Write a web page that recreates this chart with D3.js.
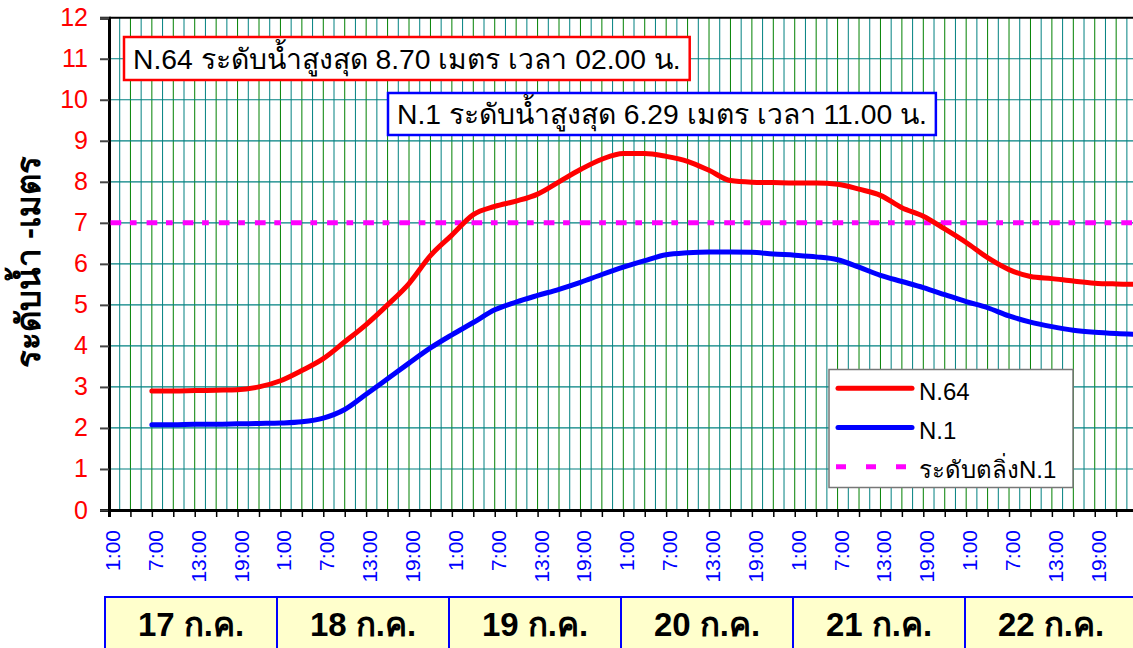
<!DOCTYPE html>
<html>
<head>
<meta charset="utf-8">
<script src="https://cdn.jsdelivr.net/npm/d3@7"></script>
<style>
  body { margin: 0; background: #fff; }
  svg { display: block; font-family: "Liberation Sans", Arial, sans-serif; }
</style>
</head>
<body>
<svg id="chart" width="1133" height="648"></svg>
<script>
// hours counted from 17 ก.ค. 00:00, one reading every 3 hours
var hours = [7, 10, 13, 16, 19, 22, 25, 28, 31, 34, 37, 40, 43, 46, 49, 52, 55, 58, 61, 64,
             67, 70, 73, 76, 79, 82, 85, 88, 91, 94, 97, 100, 103, 106, 109, 112, 115, 118,
             121, 124, 127, 130, 133, 136, 139, 142, 145];

var n64 = [2.90, 2.90, 2.91, 2.92, 2.93, 3.00, 3.15, 3.40, 3.69, 4.10, 4.52, 5.00, 5.52, 6.20,
           6.70, 7.20, 7.40, 7.53, 7.70, 8.00, 8.30, 8.55, 8.69, 8.69, 8.62, 8.50, 8.28, 8.03,
           7.99, 7.98, 7.97, 7.97, 7.94, 7.82, 7.67, 7.37, 7.16, 6.85, 6.52, 6.15, 5.86, 5.69,
           5.64, 5.58, 5.53, 5.51, 5.50];

var n1 = [2.08, 2.08, 2.09, 2.09, 2.10, 2.11, 2.12, 2.15, 2.24, 2.45, 2.82, 3.20, 3.58, 3.95,
          4.27, 4.57, 4.88, 5.07, 5.23, 5.38, 5.55, 5.74, 5.92, 6.08, 6.22, 6.27, 6.29, 6.29,
          6.28, 6.24, 6.21, 6.17, 6.10, 5.92, 5.72, 5.57, 5.42, 5.25, 5.08, 4.93, 4.73, 4.58,
          4.47, 4.38, 4.33, 4.30, 4.28];

var bankLevel = 7.0; // ระดับตลิ่ง N.1

var days = ["17 ก.ค.", "18 ก.ค.", "19 ก.ค.", "20 ก.ค.", "21 ก.ค.", "22 ก.ค."];
var timeLabels = ["1:00", "7:00", "13:00", "19:00"];
var yTicks = [0, 1, 2, 3, 4, 5, 6, 7, 8, 9, 10, 11, 12];

var note64 = "N.64 ระดับน้ำสูงสุด 8.70 เมตร เวลา 02.00 น.";
var note1 = "N.1 ระดับน้ำสูงสุด 6.29 เมตร เวลา 11.00 น.";

function main() {
  var svg = d3.select("#chart");
  var pLeft = 109, pTop = 17.7, pBottom = 510, pRight = 1137.6;

  var x = d3.scaleLinear().domain([1, 145]).range([pLeft, pRight]);
  var y = d3.scaleLinear().domain([0, 12]).range([pBottom, pTop]);

  // grid
  var grid = svg.append("g");
  grid.selectAll(".vg")
    .data(d3.range(2.5, 146, 1.5))
    .enter().append("line")
    .attr("x1", d => x(d)).attr("x2", d => x(d))
    .attr("y1", pTop).attr("y2", pBottom)
    .attr("stroke", (d, i) => i % 2 == 0 ? "#008080" : "#008000")
    .attr("stroke-width", 1);
  grid.selectAll(".hg")
    .data(yTicks.slice(1, 12))
    .enter().append("line")
    .attr("x1", pLeft).attr("x2", 1133)
    .attr("y1", d => y(d)).attr("y2", d => y(d))
    .attr("stroke", "#008080")
    .attr("stroke-width", 1.2);

  // top frame
  svg.append("line").attr("x1", pLeft).attr("x2", 1133).attr("y1", pTop).attr("y2", pTop)
    .attr("stroke", "#000").attr("stroke-width", 2);

  // y axis
  var yAxis = svg.append("g")
    .attr("transform", "translate(" + pLeft + ",0)")
    .call(d3.axisLeft(y).tickValues(yTicks).tickSize(9).tickPadding(12));
  yAxis.select(".domain").attr("stroke", "#000").attr("stroke-width", 3);
  yAxis.selectAll(".tick line").attr("stroke", "#444").attr("stroke-width", 2);
  yAxis.selectAll("text").attr("fill", "#ff0000").attr("font-size", 25)
    .attr("font-family", "Liberation Sans, Arial, sans-serif");

  // x axis
  var xAxis = svg.append("g")
    .attr("transform", "translate(0," + pBottom + ")")
    .call(d3.axisBottom(x).tickValues(d3.range(1, 143, 3)).tickSize(7)
      .tickFormat(function (h) {
        var k = (h - 1) % 24;
        return k % 6 == 0 ? timeLabels[k / 6] : "";
      }));
  xAxis.select(".domain").attr("stroke", "#000").attr("stroke-width", 3);
  xAxis.selectAll(".tick line").attr("stroke", "#000").attr("stroke-width", 1.5);
  xAxis.selectAll("text")
    .attr("fill", "#0000ff").attr("font-size", 21)
    .attr("font-family", "Liberation Sans, Arial, sans-serif")
    .attr("text-anchor", "end")
    .attr("transform", "rotate(-90)")
    .attr("x", -20).attr("y", 10.5).attr("dy", 0);

  // y title
  svg.append("text")
    .attr("transform", "translate(40,262) rotate(-90)")
    .attr("text-anchor", "middle")
    .attr("font-size", 33).attr("font-weight", "bold")
    .text("ระดับน้ำ -เมตร");

  // bank level line
  svg.append("line")
    .attr("x1", pLeft + 1.5).attr("x2", 1133)
    .attr("y1", y(bankLevel)).attr("y2", y(bankLevel))
    .attr("stroke", "#ff00ff").attr("stroke-width", 5)
    .attr("stroke-dasharray", "10.7,8.7,6.7,10");

  // series
  var line = d3.line().x((d, i) => x(hours[i])).y(d => y(d)).curve(d3.curveMonotoneX);
  svg.append("path").datum(n64).attr("d", line)
    .attr("fill", "none").attr("stroke", "#ff0000").attr("stroke-width", 5)
    .attr("stroke-linecap", "round").attr("stroke-linejoin", "round");
  svg.append("path").datum(n1).attr("d", line)
    .attr("fill", "none").attr("stroke", "#0000ff").attr("stroke-width", 5)
    .attr("stroke-linecap", "round").attr("stroke-linejoin", "round");

  // notes
  function note(txt, bx, by, h, color) {
    var g = svg.append("g");
    var r = g.append("rect").attr("x", bx).attr("y", by).attr("height", h)
      .attr("fill", "#fff").attr("stroke", color).attr("stroke-width", 2.5);
    var t = g.append("text").attr("x", bx + 9).attr("y", by + h / 2 + 10)
      .attr("font-size", 28.3).attr("fill", "#000").text(txt);
    r.attr("width", t.node().getBBox().width + 18);
  }
  note(note64, 124, 37, 43, "#ff0000");
  note(note1, 388, 93, 42, "#0000ff");

  // legend
  var lg = svg.append("g");
  lg.append("rect").attr("x", 829).attr("y", 369.5).attr("width", 244).attr("height", 118)
    .attr("fill", "#fff").attr("stroke", "#777").attr("stroke-width", 1.5);
  var legendItems = [
    {name: "N.64", color: "#ff0000", dash: null},
    {name: "N.1", color: "#0000ff", dash: null},
    {name: "ระดับตลิ่งN.1", color: "#ff00ff", dash: "10,20"}
  ];
  legendItems.forEach(function (d, i) {
    var ly = 388.3 + i * 39.2;
    lg.append("line").attr("x1", d.dash ? 836 : 838).attr("x2", d.dash ? 914 : 912)
      .attr("y1", ly).attr("y2", ly)
      .attr("stroke", d.color).attr("stroke-width", 5)
      .attr("stroke-linecap", d.dash ? "butt" : "round")
      .attr("stroke-dasharray", d.dash);
    lg.append("text").attr("x", 919).attr("y", ly + 11.5)
      .attr("font-size", 24).text(d.name);
  });

  // day table
  var dayX = d3.scaleBand().domain(days).range([105, 105 + 6 * 172]);
  var dg = svg.append("g");
  dg.selectAll("rect").data(days).enter().append("rect")
    .attr("x", d => dayX(d)).attr("y", 597)
    .attr("width", dayX.bandwidth()).attr("height", 70)
    .attr("fill", "#ffffcc").attr("stroke", "#0000ff").attr("stroke-width", 2);
  dg.selectAll("text").data(days).enter().append("text")
    .attr("x", d => dayX(d) + dayX.bandwidth() / 2).attr("y", 636)
    .attr("text-anchor", "middle").attr("font-size", 33).attr("font-weight", "bold")
    .text(d => d);
}
main();
</script>
</body>
</html>
